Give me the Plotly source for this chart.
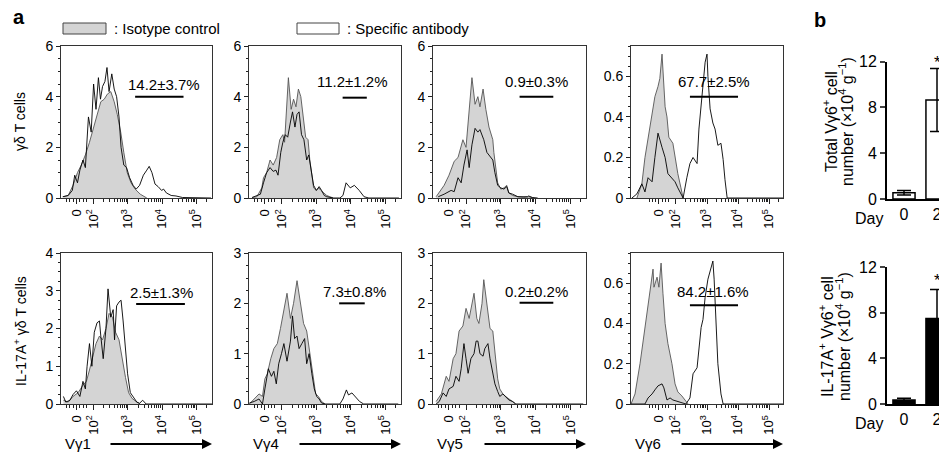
import numpy as np
import plotly.graph_objects as go

# ---------------- panel a : histograms (x in display decades, 10^2 = 2, 10^3 = 3 ...) ----------------
# gamma-delta T cells (top row)
r1_vg1_iso_x = [1.12, 1.26, 1.40, 1.53, 1.64, 1.76, 1.88, 2.00, 2.12, 2.21, 2.31, 2.40, 2.50, 2.60, 2.69, 2.79,
                2.88, 2.98, 3.09, 3.21, 3.36, 3.55]
r1_vg1_iso_y = [0.05, 0.1, 0.5, 1.0, 1.3, 1.7, 2.2, 2.8, 3.4, 3.8, 3.9, 4.1, 4.2, 3.8, 3.3, 2.6, 1.8, 1.0, 0.6,
                0.35, 0.15, 0]
r1_vg1_ab_x = [1.10, 1.26, 1.38, 1.45, 1.53, 1.60, 1.69, 1.76, 1.85, 1.93, 2.00, 2.07, 2.14, 2.20, 2.26, 2.33,
               2.39, 2.45, 2.53, 2.60, 2.67, 2.74, 2.80, 2.88, 2.96, 3.05, 3.15, 3.24, 3.34, 3.45, 3.55, 3.62,
               3.70, 3.79, 3.88, 3.98, 4.04, 4.12, 4.26, 4.40, 4.59, 5.07, 5.42]
r1_vg1_ab_y = [0.05, 0.1, 0.3, 0.9, 0.6, 1.1, 1.5, 1.2, 3.2, 2.6, 4.5, 3.5, 4.75, 3.9, 4.4, 4.6, 5.15, 4.2, 4.9,
               4.3, 4.0, 3.2, 2.0, 1.3, 1.2, 0.8, 0.5, 0.35, 0.5, 0.9, 1.1, 1.25, 1.0, 0.55, 0.45, 0.3, 0.35,
               0.2, 0.1, 0.08, 0.02, 0, 0]

r1_vg4_iso_x = [1.14, 1.28, 1.42, 1.47, 1.56, 1.66, 1.75, 1.85, 1.94, 2.03, 2.08, 2.13, 2.19, 2.27, 2.34, 2.41,
                2.48, 2.55, 2.62, 2.69, 2.76, 2.81, 2.88, 2.92, 3.00, 3.07, 3.13, 3.21, 3.30, 3.39, 3.49]
r1_vg4_iso_y = [0.02, 0.05, 0.4, 0.8, 1.0, 1.5, 1.3, 1.6, 2.3, 2.5, 2.2, 3.5, 4.75, 3.5, 3.9, 3.6, 4.3, 4.0,
                3.2, 2.4, 2.3, 1.5, 0.8, 0.4, 0.3, 0.4, 0.3, 0.2, 0.1, 0.05, 0]
r1_vg4_ab_x = [1.14, 1.28, 1.38, 1.47, 1.56, 1.66, 1.75, 1.83, 1.89, 1.97, 2.03, 2.10, 2.17, 2.25, 2.31, 2.38,
               2.44, 2.50, 2.57, 2.64, 2.72, 2.78, 2.85, 2.92, 3.00, 3.08, 3.15, 3.23, 3.30, 3.49, 3.68, 3.77,
               3.86, 3.98, 4.10, 4.24, 4.38, 4.52, 5.39]
r1_vg4_ab_y = [0.02, 0.1, 0.15, 0.6, 1.0, 1.2, 1.05, 1.1, 0.9, 1.8, 2.2, 2.5, 2.4, 3.0, 3.4, 2.8, 3.3, 3.4, 2.5,
               2.3, 1.5, 1.7, 1.0, 0.5, 0.3, 0.45, 0.3, 0.1, 0.05, 0, 0, 0.1, 0.6, 0.4, 0.5, 0.3, 0.05, 0, 0]

r1_vg5_iso_x = [1.14, 1.37, 1.51, 1.66, 1.77, 1.91, 2.00, 2.06, 2.17, 2.26, 2.34, 2.40, 2.49, 2.57, 2.66, 2.77,
                2.80, 2.91, 3.00, 3.09, 3.17, 3.23, 3.34, 3.49, 3.66, 3.80, 3.94]
r1_vg5_iso_y = [0.05, 0.5, 0.9, 1.45, 1.6, 2.3, 2.0, 3.0, 4.75, 3.7, 4.0, 3.6, 4.3, 3.5, 2.8, 2.3, 1.8, 0.6,
                0.35, 0.4, 0.5, 0.2, 0.1, 0.05, 0.02, 0.05, 0]
r1_vg5_ab_x = [1.20, 1.37, 1.57, 1.66, 1.77, 1.86, 1.94, 2.03, 2.09, 2.17, 2.26, 2.34, 2.40, 2.51, 2.60, 2.66,
               2.77, 2.83, 2.91, 3.00, 3.09, 3.17, 3.23, 3.34, 3.49, 3.77, 3.80, 3.91, 4.06]
r1_vg5_ab_y = [0.05, 0.15, 0.3, 0.25, 0.8, 0.6, 1.3, 1.9, 1.2, 2.1, 2.75, 2.6, 2.7, 2.3, 1.8, 1.7, 1.5, 1.0,
               0.5, 0.4, 0.35, 0.45, 0.2, 0.15, 0.05, 0.05, 0.08, 0.02, 0]

r1_vg6_iso_x = [0.74, 0.90, 1.00, 1.10, 1.23, 1.32, 1.42, 1.48, 1.55, 1.65, 1.71, 1.77, 1.90, 1.97, 2.06, 2.16,
                2.23]
r1_vg6_iso_y = [0, 0.07, 0.2, 0.29, 0.4, 0.5, 0.55, 0.59, 0.71, 0.45, 0.4, 0.3, 0.27, 0.2, 0.12, 0.05, 0]
r1_vg6_ab_x = [0.58, 0.74, 0.90, 1.00, 1.10, 1.23, 1.32, 1.42, 1.55, 1.65, 1.74, 1.87, 1.97, 2.06, 2.23, 2.35,
               2.45, 2.55, 2.68, 2.74, 2.84, 2.94, 3.00, 3.03, 3.10, 3.19, 3.26, 3.35, 3.45, 3.52, 3.58, 3.65,
               5.45]
r1_vg6_ab_y = [0, 0.02, 0.07, 0.03, 0.1, 0.08, 0.2, 0.32, 0.25, 0.2, 0.12, 0.1, 0.08, 0.05, 0, 0.1, 0.17, 0.2,
               0.17, 0.34, 0.5, 0.67, 0.71, 0.6, 0.44, 0.37, 0.34, 0.26, 0.27, 0.19, 0.09, 0, 0]

# IL-17A+ gamma-delta T cells (bottom row)
r2_vg1_iso_x = [1.12, 1.26, 1.40, 1.55, 1.69, 1.79, 1.88, 1.98, 2.07, 2.17, 2.26, 2.36, 2.45, 2.55, 2.64, 2.74,
                2.83, 2.93, 3.02, 3.12, 3.26, 3.36]
r2_vg1_iso_y = [0.1, 0.05, 0.2, 0.3, 0.5, 0.6, 0.9, 1.3, 1.6, 1.8, 1.7, 2.0, 2.4, 2.3, 1.9, 1.7, 1.2, 0.7, 0.3,
                0.15, 0.05, 0]
r2_vg1_ab_x = [1.12, 1.19, 1.31, 1.40, 1.50, 1.60, 1.69, 1.76, 1.81, 1.88, 1.95, 2.02, 2.10, 2.17, 2.21, 2.28,
               2.36, 2.42, 2.50, 2.57, 2.61, 2.67, 2.74, 2.80, 2.86, 2.93, 2.99, 3.07, 3.17, 3.26, 3.34, 3.43,
               3.53, 5.45]
r2_vg1_ab_y = [0.2, 0.05, 0.1, 0.25, 0.35, 0.2, 0.6, 0.4, 1.0, 1.6, 1.0, 1.9, 2.15, 2.2, 1.8, 1.2, 2.0, 3.05,
               2.3, 2.5, 1.7, 2.6, 2.7, 2.75, 2.2, 1.5, 0.8, 0.3, 0.15, 0.05, 0.02, 0.1, 0, 0]

r2_vg4_iso_x = [1.06, 1.20, 1.34, 1.44, 1.51, 1.58, 1.68, 1.77, 1.87, 1.96, 2.06, 2.15, 2.25, 2.34, 2.44, 2.53,
                2.63, 2.72, 2.82, 2.91, 2.98, 3.06, 3.15, 3.25]
r2_vg4_iso_y = [0, 0.1, 0.2, 0.15, 0.5, 0.6, 0.9, 1.1, 1.2, 1.5, 1.9, 2.2, 1.7, 2.0, 2.45, 2.0, 1.6, 1.45, 1.0,
                0.5, 0.2, 0.15, 0.05, 0]
r2_vg4_ab_x = [1.06, 1.20, 1.34, 1.44, 1.51, 1.61, 1.70, 1.77, 1.84, 1.91, 1.99, 2.06, 2.15, 2.25, 2.31, 2.37,
               2.44, 2.50, 2.58, 2.66, 2.72, 2.79, 2.87, 2.94, 3.01, 3.08, 3.15, 3.25, 3.68, 3.77, 3.87, 3.93,
               4.03, 4.12, 4.25, 4.37, 5.37]
r2_vg4_ab_y = [0.02, 0.05, 0.1, 0, 0.3, 0.7, 0.55, 0.65, 0.4, 0.8, 1.0, 1.2, 0.85, 1.25, 1.75, 1.3, 1.35, 1.1,
               1.2, 1.3, 0.8, 1.0, 0.6, 0.3, 0.15, 0.1, 0.02, 0, 0, 0.1, 0.28, 0.18, 0.22, 0.15, 0.05, 0, 0]

r2_vg5_iso_x = [1.14, 1.29, 1.43, 1.51, 1.63, 1.71, 1.80, 1.91, 2.00, 2.09, 2.23, 2.31, 2.37, 2.46, 2.51, 2.60,
                2.69, 2.77, 2.83, 2.91, 2.97, 3.06, 3.14, 3.23, 3.34, 3.43]
r2_vg5_iso_y = [0.05, 0.2, 0.55, 0.45, 0.9, 1.0, 1.45, 1.55, 1.9, 1.7, 2.2, 1.7, 1.6, 2.0, 2.47, 2.0, 1.5,
                1.45, 1.0, 0.5, 0.3, 0.2, 0.15, 0.1, 0.05, 0]
r2_vg5_ab_x = [1.14, 1.23, 1.34, 1.43, 1.51, 1.63, 1.71, 1.80, 1.86, 1.94, 2.00, 2.06, 2.14, 2.23, 2.29, 2.34,
               2.40, 2.49, 2.54, 2.63, 2.69, 2.77, 2.83, 2.91, 2.97, 3.06, 3.14, 3.23, 3.34, 3.43, 5.37]
r2_vg5_ab_y = [0, 0.05, 0.22, 0.15, 0.3, 0.35, 0.55, 0.45, 0.7, 1.2, 0.9, 0.61, 0.9, 1.0, 1.25, 1.25, 1.0, 0.95,
               1.1, 1.2, 0.9, 0.6, 0.4, 0.25, 0.15, 0.2, 0.15, 0.08, 0.05, 0, 0]

r2_vg6_iso_x = [0.55, 0.68, 0.84, 1.00, 1.10, 1.19, 1.26, 1.29, 1.39, 1.45, 1.52, 1.58, 1.65, 1.74, 1.87, 1.97,
                2.06, 2.19, 2.29, 2.39]
r2_vg6_iso_y = [0, 0.05, 0.2, 0.38, 0.5, 0.6, 0.67, 0.58, 0.63, 0.58, 0.7, 0.55, 0.4, 0.3, 0.2, 0.1, 0.06,
                0.04, 0.02, 0]
r2_vg6_ab_x = [0.55, 1.00, 1.10, 1.23, 1.32, 1.42, 1.55, 1.61, 1.71, 1.81, 1.90, 2.13, 2.32, 2.45, 2.55, 2.68,
               2.74, 2.81, 2.87, 2.94, 3.03, 3.13, 3.19, 3.23, 3.29, 3.35, 3.45, 3.52, 5.45]
r2_vg6_ab_y = [0, 0, 0.03, 0.05, 0.07, 0.09, 0.1, 0.08, 0.02, 0.03, 0.02, 0.01, 0, 0.03, 0.15, 0.18, 0.28, 0.38,
               0.42, 0.53, 0.62, 0.68, 0.71, 0.62, 0.4, 0.2, 0.05, 0, 0]

channels = ["Vγ1", "Vγ4", "Vγ5", "Vγ6"]
row_titles = ["γδ T cells", "IL-17A<sup>+</sup> γδ T cells"]
y_max = [[6, 6, 6, 0.75], [4, 3, 3, 0.75]]
y_ticks = [[[0, 2, 4, 6]] * 3 + [[0, 0.2, 0.4, 0.6]],
           [[0, 1, 2, 3, 4], [0, 1, 2, 3], [0, 1, 2, 3], [0, 0.2, 0.4, 0.6]]]

gate_text = [["14.2±3.7%", "11.2±1.2%", "0.9±0.3%", "67.7±2.5%"],
             ["2.5±1.3%", "7.3±0.8%", "0.2±0.2%", "84.2±1.6%"]]
gate_x = [[(3.21, 4.62), (3.76, 4.46), (3.54, 4.51), (2.45, 4.0)],
          [(3.24, 4.66), (3.66, 4.40), (3.54, 4.51), (2.45, 4.0)]]
gate_y = [[4.0, 3.96, 4.0, 0.5], [2.65, 2.0, 2.01, 0.49]]
label_x = [[4.05, 4.04, 4.03, 3.23], [3.99, 4.1, 4.03, 3.2]]
label_y = [[4.5, 4.6, 4.6, 0.577], [2.95, 2.23, 2.23, 0.56]]

# ---------------- panel b : cell numbers ----------------
days = ["0", "2"]
total_mean = [0.55, 8.65]
total_err = [0.2, 2.75]
il17_mean = [0.35, 7.5]
il17_err = [0.15, 2.55]

hist = [
    [(r1_vg1_iso_x, r1_vg1_iso_y, r1_vg1_ab_x, r1_vg1_ab_y),
     (r1_vg4_iso_x, r1_vg4_iso_y, r1_vg4_ab_x, r1_vg4_ab_y),
     (r1_vg5_iso_x, r1_vg5_iso_y, r1_vg5_ab_x, r1_vg5_ab_y),
     (r1_vg6_iso_x, r1_vg6_iso_y, r1_vg6_ab_x, r1_vg6_ab_y)],
    [(r2_vg1_iso_x, r2_vg1_iso_y, r2_vg1_ab_x, r2_vg1_ab_y),
     (r2_vg4_iso_x, r2_vg4_iso_y, r2_vg4_ab_x, r2_vg4_ab_y),
     (r2_vg5_iso_x, r2_vg5_iso_y, r2_vg5_ab_x, r2_vg5_ab_y),
     (r2_vg6_iso_x, r2_vg6_iso_y, r2_vg6_ab_x, r2_vg6_ab_y)],
]

# the page body keeps its 8px default margin, so the figure is drawn 8px in and made that much smaller
OFF = 8
W, H = 947 - OFF, 462 - OFF
FONT = "Liberation Sans, Arial, Helvetica, sans-serif"


def fx(p):
    return (p - OFF) / W


def fy(p):
    return 1 - (p - OFF) / H


def note(x, y, text, size=14, **kw):
    d = dict(x=fx(x), y=fy(y), xref="paper", yref="paper", text=text, showarrow=False,
             xanchor="center", yanchor="middle", font=dict(size=size))
    d.update(kw)
    return d


col_px = [(61, 212), (249, 401), (433, 586), (631, 783)]
row_px = [(46, 198), (253, 404)]

fig = go.Figure()
layout = dict(width=W, height=H, margin=dict(l=0, r=0, t=0, b=0, pad=0, autoexpand=False), showlegend=False,
              plot_bgcolor="white", paper_bgcolor="white", font=dict(family=FONT, size=14, color="black"))
annotations = []
shapes = []

for r in range(2):
    for c in range(4):
        i = r * 4 + c + 1
        iso_x, iso_y, ab_x, ab_y = hist[r][c]
        xa, ya = "x%d" % i, "y%d" % i
        fig.add_trace(go.Scatter(x=iso_x, y=iso_y, mode="lines", fill="tozeroy", fillcolor="#d4d4d4",
                                 line=dict(color="#555555", width=0.9), xaxis=xa, yaxis=ya))
        fig.add_trace(go.Scatter(x=ab_x, y=ab_y, mode="lines", line=dict(color="black", width=0.9),
                                 xaxis=xa, yaxis=ya))

        x_lo = 1.05 if c < 3 else 0.55
        zero = 1.5 if c < 3 else 1.45
        minor = [zero + d for d in (-0.3, -0.2, -0.1, 0.1, 0.2, 0.3)]
        for dec in (2, 3, 4, 5):
            minor += [dec + np.log10(k) for k in range(2, 10)]
        minor = [m for m in minor if x_lo < m < 5.45]

        layout["xaxis%d" % i] = dict(
            domain=[fx(col_px[c][0]), fx(col_px[c][1])], anchor=ya, range=[x_lo, 5.45], automargin=False,
            tickmode="array", tickvals=[zero, 2, 3, 4, 5],
            ticktext=["0", "10<sup>2</sup>", "10<sup>3</sup>", "10<sup>4</sup>", "10<sup>5</sup>"],
            tickangle=-90, tickfont=dict(size=13), ticks="outside", ticklen=5, tickcolor="#222",
            minor=dict(tickmode="array", tickvals=minor, ticks="outside", ticklen=3, tickcolor="#222"),
            showline=True, linecolor="#333", linewidth=1, mirror=True, showgrid=False, zeroline=False)
        step = y_ticks[r][c][1] - y_ticks[r][c][0]
        layout["yaxis%d" % i] = dict(
            domain=[fy(row_px[r][1]), fy(row_px[r][0])], anchor=xa, range=[0, y_max[r][c]], automargin=False,
            tickmode="array", tickvals=y_ticks[r][c], tickfont=dict(size=14),
            ticks="outside", ticklen=4, tickcolor="#222",
            minor=dict(dtick=step / 4, tick0=0, ticks="outside", ticklen=2, tickcolor="#222"),
            showline=True, linecolor="#333", linewidth=1, mirror=True, showgrid=False, zeroline=False)

        # gate
        shapes.append(dict(type="line", xref=xa, yref=ya, x0=gate_x[r][c][0], x1=gate_x[r][c][1],
                           y0=gate_y[r][c], y1=gate_y[r][c], line=dict(color="black", width=2)))
        annotations.append(dict(x=label_x[r][c], y=label_y[r][c], xref=xa, yref=ya, text=gate_text[r][c],
                                showarrow=False, xanchor="center", yanchor="middle", font=dict(size=15)))

        if r == 1:
            annotations.append(note(col_px[c][0] + 2, 443, channels[c], 15, xanchor="left"))
            annotations.append(dict(x=fx(col_px[c][1]), y=fy(444), xref="paper", yref="paper", text="",
                                    showarrow=True, ax=-103, ay=0, arrowhead=2, arrowsize=1,
                                    arrowwidth=2, arrowcolor="black"))

    annotations.append(note(20, 122 if r == 0 else 331, row_titles[r], 14, textangle=-90))

# bar charts
bar_rows = [(total_mean, total_err, "white", (61.7, 199),
             ["Total Vγ6<sup>+</sup> cell", "number (×10<sup>4</sup> g<sup>−1</sup>)"], 122, (830, 846), 62),
            (il17_mean, il17_err, "black", (267.3, 404),
             ["IL-17A<sup>+</sup> Vγ6<sup>+</sup> cell", "number (×10<sup>4</sup> g<sup>−1</sup>)"], 337, (826, 843), 280)]
for k, (mean, err, color, (top, bot), title, ty, tx, star_y) in enumerate(bar_rows):
    i = 9 + k
    xa, ya = "x%d" % i, "y%d" % i
    fig.add_trace(go.Bar(x=[0, 1], y=mean, width=0.67, marker=dict(color=color, line=dict(color="black", width=1.5)),
                         error_y=dict(type="data", array=err, color="black", thickness=1.5, width=7),
                         xaxis=xa, yaxis=ya))
    layout["xaxis%d" % i] = dict(domain=[fx(887), 1], anchor=ya, range=[-0.515, 1.303], tickmode="array",
                                 tickvals=[0, 1], ticktext=days, ticks="", tickfont=dict(size=16),
                                 automargin=False, showline=True, linecolor="black", linewidth=2,
                                 showgrid=False, zeroline=False)
    layout["yaxis%d" % i] = dict(domain=[fy(bot), fy(top)], anchor=xa, range=[0, 12], tickmode="array",
                                 tickvals=[0, 4, 8, 12], ticks="outside", ticklen=5, tickwidth=2,
                                 tickfont=dict(size=16), automargin=False, showline=True, linecolor="black",
                                 linewidth=2, showgrid=False, zeroline=False)
    annotations.append(note(869, bot + 19, "Day", 16))
    annotations.append(note(937, star_y, "*", 17))
    for line_text, lx in zip(title, tx):
        annotations.append(note(lx, ty, line_text, 16, textangle=-90))

# panel letters and legend
annotations.append(note(19, 17, "<b>a</b>", 20))
annotations.append(note(820, 20, "<b>b</b>", 20))
shapes.append(dict(type="rect", xref="paper", yref="paper", x0=fx(63), x1=fx(106), y0=fy(34), y1=fy(23),
                   fillcolor="#d4d4d4", line=dict(color="#444", width=1)))
shapes.append(dict(type="rect", xref="paper", yref="paper", x0=fx(297), x1=fx(339), y0=fy(34), y1=fy(23),
                   fillcolor="white", line=dict(color="#444", width=1)))
annotations.append(note(112, 28.5, ": Isotype control", 15, xanchor="left"))
annotations.append(note(345, 28.5, ": Specific antibody", 15, xanchor="left"))

layout["annotations"] = annotations
layout["shapes"] = shapes
fig.update_layout(**layout)
fig.write_html("out.html")
